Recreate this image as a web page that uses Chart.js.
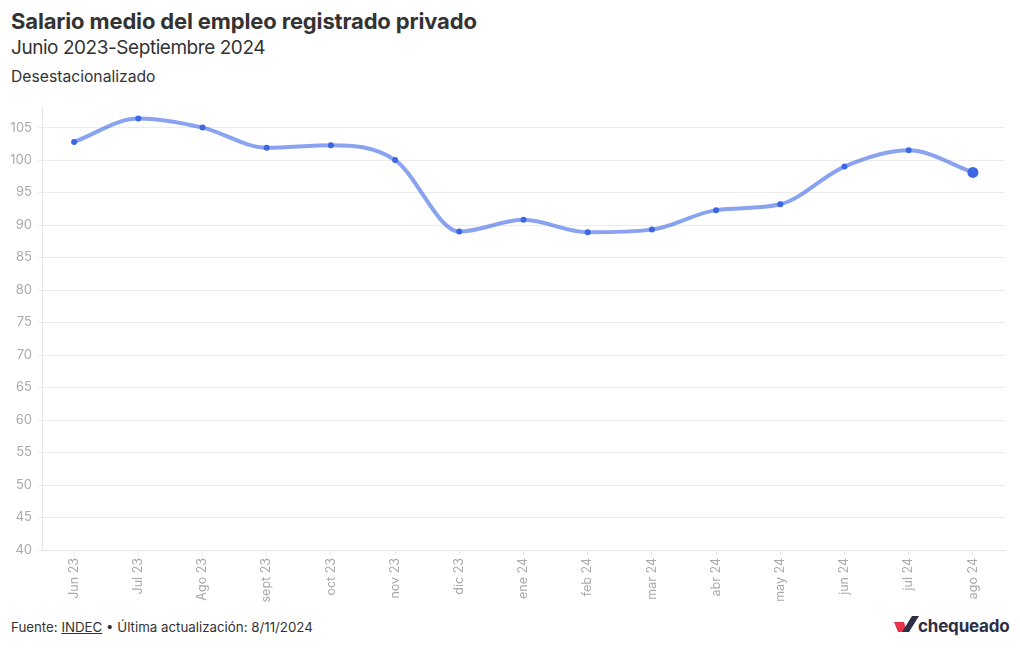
<!DOCTYPE html>
<html>
<head>
<meta charset="utf-8">
<script src="https://cdn.jsdelivr.net/npm/chart.js@4"></script>
<style>
  html,body{margin:0;padding:0;background:#fff;width:1020px;height:650px;overflow:hidden;font-family:"Inter","Liberation Sans",sans-serif;color:#333;}
  #title{position:absolute;left:11px;top:8px;font-size:22px;font-weight:700;color:#333;letter-spacing:-0.15px;}
  #sub{position:absolute;left:11px;top:36px;font-size:19px;font-weight:400;color:#333;letter-spacing:-0.45px;}
  #note{position:absolute;left:11px;top:67px;font-size:15.7px;color:#333;}
  #wrap{position:absolute;left:0;top:93px;width:1020px;height:517px;}
  #foot{position:absolute;left:11px;top:619px;font-size:13.3px;color:#333;}
  #foot u{text-decoration:underline;}
  #logo{position:absolute;left:892px;top:612px;}
</style>
</head>
<body>
<div id="title">Salario medio del empleo registrado privado</div>
<div id="sub">Junio 2023-Septiembre 2024</div>
<div id="note">Desestacionalizado</div>
<div id="wrap"><canvas id="c" width="1020" height="517"></canvas></div>
<div id="foot">Fuente: <u>INDEC</u> • Última actualización: 8/11/2024</div>
<div id="logo">
<svg width="125" height="30" viewBox="0 0 125 30">
  <polygon points="2,10 12,10 15,20 6,20" fill="#e8334a"/>
  <polygon points="10,20 20,4 27,4 17,20" fill="#2d2f45"/>
  <text x="26" y="20" font-family="Inter, Liberation Sans, sans-serif" font-size="17" font-weight="700" fill="#2d2f45" letter-spacing="-0.2">chequeado</text>
</svg>
</div>
<script>
const categories = ["Jun 23","Jul 23","Ago 23","sept 23","oct 23","nov 23","dic 23","ene 24","feb 24","mar 24","abr 24","may 24","jun 24","jul 24","ago 24"];
const salario = [102.8, 106.4, 105.0, 101.9, 102.3, 100.0, 89.0, 90.8, 88.9, 89.3, 92.3, 93.2, 99.0, 101.5, 98.1];
const yTicks = [40,45,50,55,60,65,70,75,80,85,90,95,100,105];

const lastIdx = salario.length - 1;
new Chart(document.getElementById('c'), {
  type: 'line',
  data: {
    labels: categories,
    datasets: [{
      data: salario,
      borderColor: 'rgba(59,102,230,0.6)',
      borderWidth: 4,
      cubicInterpolationMode: 'monotone',
      pointBackgroundColor: '#3b66e4',
      pointBorderWidth: 0,
      pointRadius: salario.map((v,i)=> i===lastIdx ? 5.5 : 3),
      fill: false
    }]
  },
  options: {
    responsive: false,
    animation: false,
    layout: { padding: { top: 9, right: 15, left: 0, bottom: 0 } },
    plugins: { legend: { display: false }, tooltip: { enabled: false } },
    scales: {
      x: {
        offset: true,
        grid: { drawOnChartArea: false, drawTicks: true, tickLength: 5, color: '#e6e6e6' },
        border: { display: true, color: '#e6e6e6' },
        ticks: { minRotation: 90, maxRotation: 90, color: '#aaaaaa', font: { size: 12.5, family: 'Inter, Liberation Sans, sans-serif' }, padding: 3, autoSkip: false },
        afterFit: (s) => { s.height = 60; }
      },
      y: {
        min: 40, max: 108.2,
        afterBuildTicks: (s) => { s.ticks = yTicks.map(v => ({ value: v })); },
        grid: { color: '#ececec', tickLength: 4 },
        border: { display: true, color: '#e6e6e6' },
        ticks: { color: '#aaaaaa', font: { size: 13, family: 'Inter, Liberation Sans, sans-serif' }, padding: 6 },
        afterFit: (s) => { s.width = 42; }
      }
    }
  }
});
</script>
</body>
</html>
